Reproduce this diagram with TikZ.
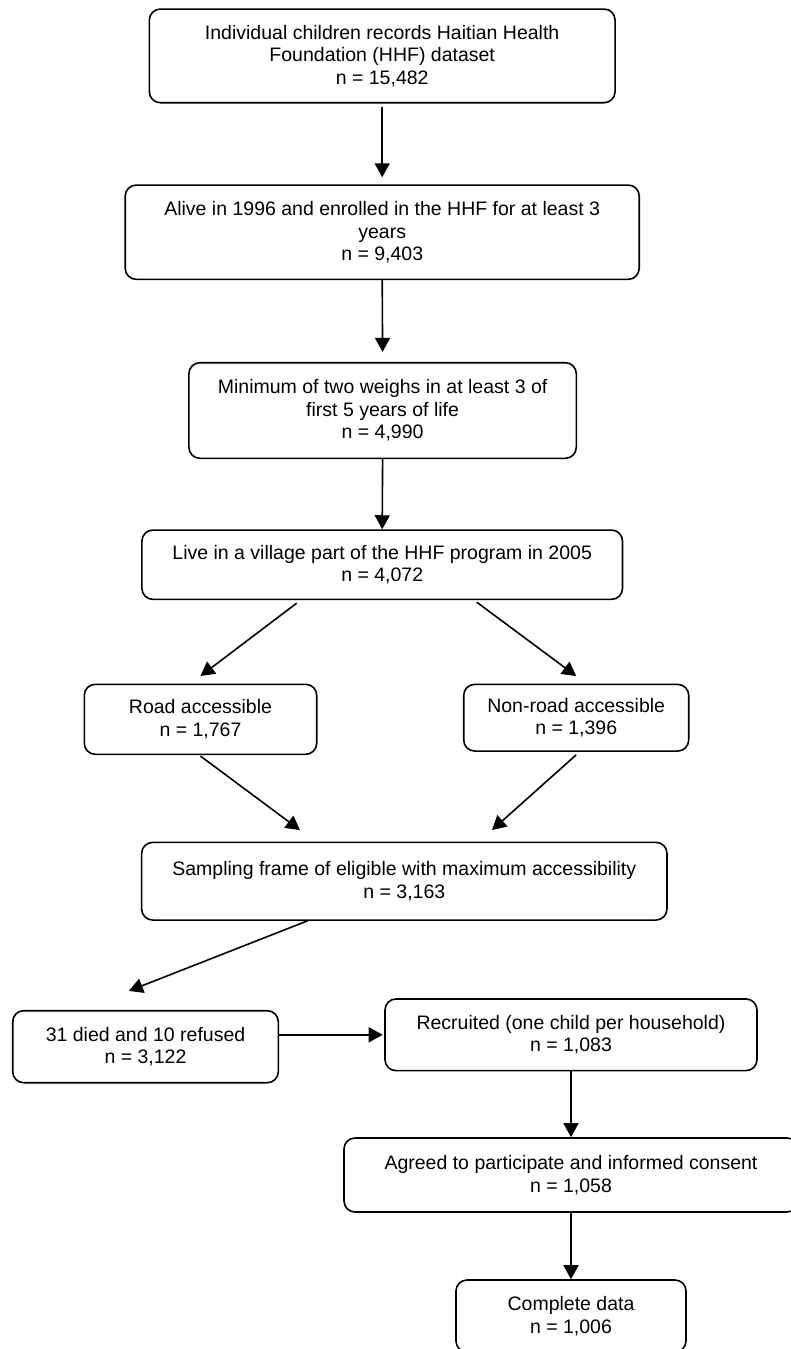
\documentclass[tikz,border=0pt]{standalone}
\usepackage{fontspec}
\setmainfont{Liberation Sans}
\usetikzlibrary{arrows.meta,calc}
\begin{document}
\begin{tikzpicture}[x=1pt,y=-1pt,
  box/.style={draw=black, line width=1.6pt, rounded corners=11pt, align=center,
    inner sep=0pt, font=\fontsize{19.5pt}{22.5pt}\selectfont, text=black},
  arr/.style={draw=black, line width=1.6pt, -{Triangle[width=15pt,length=14pt]}}]
\useasboundingbox (0,0) rectangle (791,1349);
\begin{scope}
\clip (0,0) rectangle (791,1349);
\node[box, minimum width=465.7pt, minimum height=93.7pt] (n1) at (382.2,55.9)
  {Individual children records Haitian Health\\Foundation (HHF) dataset\\n = 15,482};
\node[box, minimum width=514pt, minimum height=94.3pt] (n2) at (382.2,232.2)
  {Alive in 1996 and enrolled in the HHF for at least 3\\years\\n = 9,403};
\node[box, minimum width=387.4pt, minimum height=95.6pt] (n3) at (382.6,410.5)
  {Minimum of two weighs in at least 3 of\\first 5 years of life\\n = 4,990};
\node[box, minimum width=480.6pt, minimum height=69.3pt] (n4) at (382.2,564.7)
  {Live in a village part of the HHF program in 2005\\n = 4,072};
\node[box, minimum width=232.4pt, minimum height=70pt] (n5) at (200.5,719.3)
  {Road accessible\\n = 1,767};
\node[box, minimum width=225pt, minimum height=66.7pt] (n6) at (576.2,717.7)
  {Non-road accessible\\n = 1,396};
\node[box, minimum width=525.3pt, minimum height=77.7pt] (n7) at (404.3,881.2)
  {Sampling frame of eligible with maximum accessibility\\n = 3,163};
\node[box, minimum width=265.6pt, minimum height=72pt] (n8) at (145.5,1046.7)
  {31 died and 10 refused\\n = 3,122};
\node[box, minimum width=372pt, minimum height=71.7pt] (n9) at (571,1034.8)
  {Recruited (one child per household)\\n = 1,083};
\node[box, minimum width=454pt, minimum height=74pt] (n10) at (571,1175)
  {Agreed to participate and informed consent\\n = 1,058};
\node[box, minimum width=230pt, minimum height=72pt] (n11) at (571,1316)
  {Complete data\\n = 1,006};

\draw[arr] ([yshift=-3pt]n1.south) -- ([yshift=7pt]n2.north);
\draw[arr] (n2.south) -- ([yshift=10pt]n3.north);
\draw[arr] (n3.south) -- (n4.north);
\draw[arr] ([xshift=-85.5pt,yshift=-3pt]n4.south) -- ([yshift=7.5pt]n5.north);
\draw[arr] ([xshift=94.5pt,yshift=-2pt]n4.south) -- ([yshift=7.5pt]n6.north);
\draw[arr] ([yshift=-1pt]n5.south) -- ([xshift=-104.3pt,yshift=11.5pt]n7.north);
\draw[arr] ([yshift=-3pt]n6.south) -- ([xshift=87.7pt,yshift=11.5pt]n7.north);
\draw[arr] ([xshift=-96.8pt]n7.south) -- ([xshift=-16.6pt,yshift=19pt]n8.north);
\draw[arr] (n8.east |- n9.west) -- ([xshift=-1.5pt]n9.west);
\draw[arr] (n9.south) -- (n10.north);
\draw[arr] (n10.south) -- (n11.north);
\end{scope}
\end{tikzpicture}
\end{document}
